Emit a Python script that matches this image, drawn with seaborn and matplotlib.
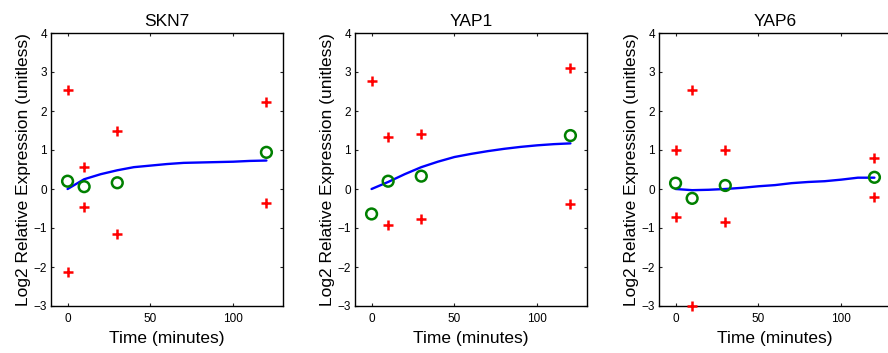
import matplotlib
matplotlib.use("Agg")
import matplotlib.pyplot as plt
import seaborn as sns

sns.set_style("ticks")
plt.rcParams["font.family"] = ["Liberation Sans", "DejaVu Sans"]
plt.rcParams["text.color"] = "black"
plt.rcParams["axes.labelcolor"] = "black"

genes = ["SKN7", "YAP1", "YAP6"]
times = [0, 10, 30, 120]

# replicate measurements (red +): time points and values
rep_t = {
    "SKN7": [0, 10, 30, 120, 0, 10, 30, 120],
    "YAP1": [0, 10, 30, 120, 10, 30, 120],
    "YAP6": [0, 10, 30, 120, 0, 10, 30, 120],
}
rep_v = {
    "SKN7": [2.53, 0.56, 1.48, 2.23, -2.13, -0.46, -1.15, -0.35],
    "YAP1": [2.76, 1.33, 1.41, 3.11, -0.93, -0.77, -0.38],
    "YAP6": [1.00, 2.53, 1.01, 0.80, -0.71, -3.01, -0.84, -0.21],
}
# mean values (green o)
means = {
    "SKN7": [0.20, 0.06, 0.16, 0.94],
    "YAP1": [-0.64, 0.20, 0.33, 1.37],
    "YAP6": [0.15, -0.24, 0.09, 0.30],
}
# fitted curve (blue line)
fit_t = [0, 10, 20, 30, 40, 50, 60, 70, 80, 90, 100, 110, 120]
fit = {
    "SKN7": [0.00, 0.25, 0.38, 0.48, 0.56, 0.60, 0.64, 0.67, 0.68, 0.69, 0.70, 0.72, 0.73],
    "YAP1": [0.00, 0.18, 0.38, 0.56, 0.70, 0.82, 0.90, 0.97, 1.03, 1.08, 1.12, 1.15, 1.17],
    "YAP6": [0.00, -0.03, -0.02, 0.00, 0.03, 0.07, 0.10, 0.15, 0.18, 0.20, 0.24, 0.29, 0.29],
}

fig = plt.figure(figsize=(8.88, 3.53), dpi=100)
lefts = [51 / 888, 355 / 888, 659 / 888]
W = 232 / 888
B = 47 / 353
H = 273 / 353

for g, l in zip(genes, lefts):
    ax = fig.add_axes([l, B, W, H])
    sns.scatterplot(x=rep_t[g], y=rep_v[g], marker="+", color="#ff0000", s=55,
                    linewidth=1.8, ax=ax, zorder=3, clip_on=False)
    sns.lineplot(x=fit_t, y=fit[g], color="#0000ff", linewidth=1.7, ax=ax, zorder=2)
    sns.scatterplot(x=times, y=means[g], marker="o", s=60, facecolor="none",
                    edgecolor="#008000", linewidth=1.8, ax=ax, zorder=4)
    ax.set_xlim(-10, 130)
    ax.set_ylim(-3, 4)
    ax.set_xticks([0, 50, 100])
    ax.set_yticks(range(-3, 5))
    ax.tick_params(direction="in", top=True, right=True, length=2.5, width=0.8,
                   labelsize=8.5, colors="#222222", labelcolor="black")
    ax.tick_params(axis="x", pad=5)
    ax.tick_params(axis="y", pad=3)
    for s in ax.spines.values():
        s.set_linewidth(1.0)
        s.set_color("black")
    ax.set_title(g, fontsize=12.5, pad=5, color="black")
    ax.set_xlabel("Time (minutes)", fontsize=12.5, labelpad=4, color="black")
    ax.set_ylabel("Log2 Relative Expression (unitless)", fontsize=12.5, labelpad=2,
                  color="black")

fig.savefig("out.png", dpi=100)
